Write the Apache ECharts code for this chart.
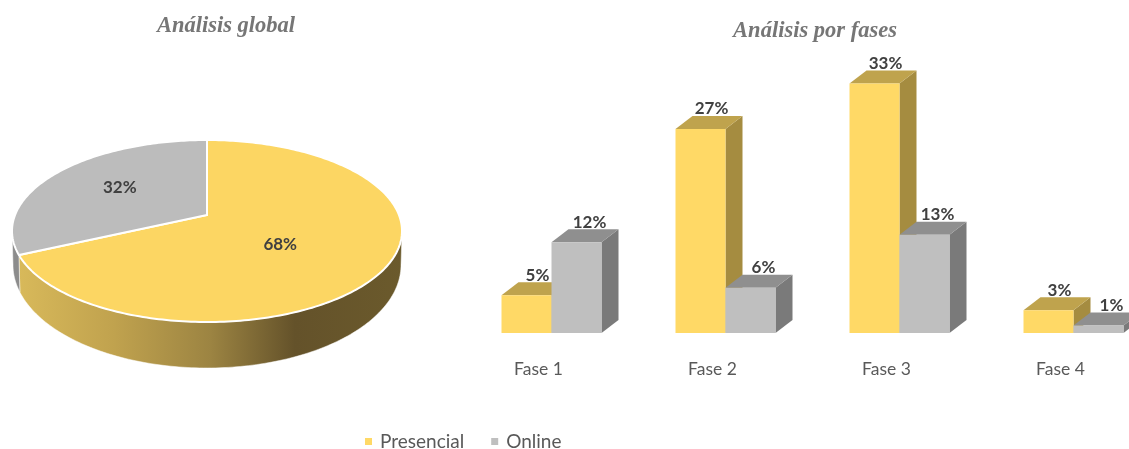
<!DOCTYPE html>
<html>
<head>
<meta charset="utf-8">
<title>Análisis</title>
<script src="https://cdn.jsdelivr.net/npm/echarts@6/dist/echarts.min.js"></script>
<style>
  html, body { margin: 0; padding: 0; background: #fff; }
  #main { width: 1129px; height: 449px; }
</style>
</head>
<body>
<div id="main"></div>
<script>
// datos
const pieNames = ["Presencial", "Online"];
const pieValues = [68, 32];
const categories = ["Fase 1", "Fase 2", "Fase 3", "Fase 4"];
const presencial = [5, 27, 33, 3];
const online = [12, 6, 13, 1];

const chart = echarts.init(document.getElementById("main"));

// tarta en perspectiva
const top3d = { cx: 207, cy: 231, rx: 195, ry: 91 };
const bottom3d = { cx: 207, cy: 265, rx: 194, ry: 103 };
const apex = { x: 207, y: 215 };
const tilt = 0.452;

// punto del borde en la direccion theta (desde arriba, sentido horario)
const rimPoint = (theta) => {
  const dx = Math.sin(theta);
  const dy = -Math.cos(theta) * tilt;
  const ox = (apex.x - top3d.cx) / top3d.rx;
  const oy = (apex.y - top3d.cy) / top3d.ry;
  const ux = dx / top3d.rx;
  const uy = dy / top3d.ry;
  const a = ux * ux + uy * uy;
  const b = 2 * (ox * ux + oy * uy);
  const c = ox * ox + oy * oy - 1;
  const t = (-b + Math.sqrt(b * b - 4 * a * c)) / (2 * a);
  return [apex.x + t * dx, apex.y + t * dy];
};

const pieColors = ["#FCD663", "#BCBCBC"];
const wallColors = [
  new echarts.graphic.LinearGradient(0, 0, 1, 0, [
    { offset: 0, color: "#d8b95a" },
    { offset: 0.25, color: "#c0a24e" },
    { offset: 0.5, color: "#9c8442" },
    { offset: 0.72, color: "#64522a" },
    { offset: 1, color: "#6b5a2c" },
  ]),
  "#8c8c8c",
];

const labelFont = "bold 17px Lato";

const renderSlice = (params, api) => {
  const i = params.dataIndex;
  const total = pieValues.reduce((s, v) => s + v, 0);
  const before = pieValues.slice(0, i).reduce((s, v) => s + v, 0);
  const start = (before / total) * Math.PI * 2;
  const sweep = (api.value(0) / total) * Math.PI * 2;
  const steps = Math.ceil(sweep / (Math.PI / 180));
  const rim = [];
  for (let k = 0; k <= steps; k++) {
    rim.push(rimPoint(start + (sweep * k) / steps));
  }
  // pared lateral: solo la mitad delantera del borde
  const front = rim.filter((p) => p[1] >= top3d.cy);
  const lower = front
    .map((p) => {
      const sx = (p[0] - top3d.cx) / top3d.rx;
      const cy = (p[1] - top3d.cy) / top3d.ry;
      return [bottom3d.cx + bottom3d.rx * sx, bottom3d.cy + bottom3d.ry * cy];
    })
    .reverse();
  const mid = start + sweep / 2;
  return {
    type: "group",
    children: [
      {
        type: "polygon",
        shape: { points: front.concat(lower) },
        style: { fill: wallColors[i], stroke: "#fff", lineWidth: 0.5 },
      },
      {
        type: "polygon",
        shape: { points: [[apex.x, apex.y]].concat(rim) },
        style: { fill: pieColors[i], stroke: "#fff", lineWidth: 2 },
      },
      {
        type: "text",
        z2: 10,
        style: {
          x: apex.x - 7 + Math.sin(mid) * 95,
          y: apex.y + 1 - Math.cos(mid) * 54,
          text: api.value(0) + "%",
          align: "center",
          verticalAlign: "middle",
          fill: "#404040",
          font: labelFont,
        },
      },
    ],
  };
};

// barras 3D
const barWidth = 50;
const depthX = 17;
const depthY = 13;
const labelShift = 13;

const renderBar = (shades, side) => (params, api) => {
  const cat = api.value(0);
  const val = api.value(1);
  const base = api.coord([cat, 0]);
  const head = api.coord([cat, val]);
  const x0 = base[0] + labelShift + (side === 0 ? -barWidth : 0);
  const x1 = x0 + barWidth;
  const y0 = base[1];
  const y1 = head[1];
  return {
    type: "group",
    children: [
      {
        type: "polygon",
        shape: { points: [[x1, y1], [x1 + depthX, y1 - depthY], [x1 + depthX, y0 - depthY], [x1, y0]] },
        style: { fill: shades.side },
      },
      {
        type: "polygon",
        shape: { points: [[x0, y1], [x0 + depthX, y1 - depthY], [x1 + depthX, y1 - depthY], [x1, y1]] },
        style: { fill: shades.top },
      },
      {
        type: "rect",
        shape: { x: x0, y: y1, width: barWidth, height: y0 - y1 },
        style: { fill: shades.front },
      },
      {
        type: "text",
        z2: 10,
        style: {
          x: (x0 + x1) / 2 + (side === 0 ? 11 : 13),
          y: y1 - 20,
          text: val + "%",
          align: "center",
          verticalAlign: "middle",
          fill: "#404040",
          font: labelFont,
        },
      },
    ],
  };
};

const titleStyle = {
  color: "#767676",
  fontFamily: "Liberation Serif",
  fontStyle: "italic",
  fontWeight: "bold",
  fontSize: 22.5,
};

chart.setOption({
  animation: false,
  backgroundColor: "#fff",
  title: [
    { text: "Análisis global", left: 221, top: 10, textAlign: "center", textStyle: titleStyle },
    { text: "Análisis por fases", left: 810, top: 15, textAlign: "center", textStyle: titleStyle },
  ],
  legend: {
    data: pieNames,
    left: 360,
    top: 427,
    icon: "rect",
    itemWidth: 7,
    itemHeight: 7,
    itemGap: 27,
    textStyle: { color: "#595959", fontFamily: "Lato", fontSize: 19, padding: [0, 0, 0, 3] },
  },
  grid: { left: 451.5, width: 696, top: 30.6, height: 302.4, outerBoundsMode: "none" },
  xAxis: {
    type: "category",
    data: categories,
    axisLine: { show: false },
    axisTick: { show: false },
    axisLabel: { color: "#595959", fontFamily: "Lato", fontSize: 17.5, margin: 27 },
  },
  yAxis: { type: "value", min: 0, max: 40, show: false },
  series: [
    {
      name: "Presencial",
      type: "custom",
      renderItem: renderBar({ front: "#FFD966", top: "#BFA34D", side: "#A58C40" }, 0),
      itemStyle: { color: "#FFD966" },
      data: presencial.map((v, i) => [i, v]),
      encode: { x: 0, y: 1 },
      z: 3,
    },
    {
      name: "Online",
      type: "custom",
      renderItem: renderBar({ front: "#BFBFBF", top: "#8F8F8F", side: "#7A7A7A" }, 1),
      itemStyle: { color: "#BFBFBF" },
      data: online.map((v, i) => [i, v]),
      encode: { x: 0, y: 1 },
      z: 4,
    },
    {
      name: "Análisis global",
      type: "custom",
      coordinateSystem: "none",
      renderItem: renderSlice,
      data: pieValues.map((v) => [v]),
      z: 2,
    },
  ],
});
</script>
</body>
</html>
